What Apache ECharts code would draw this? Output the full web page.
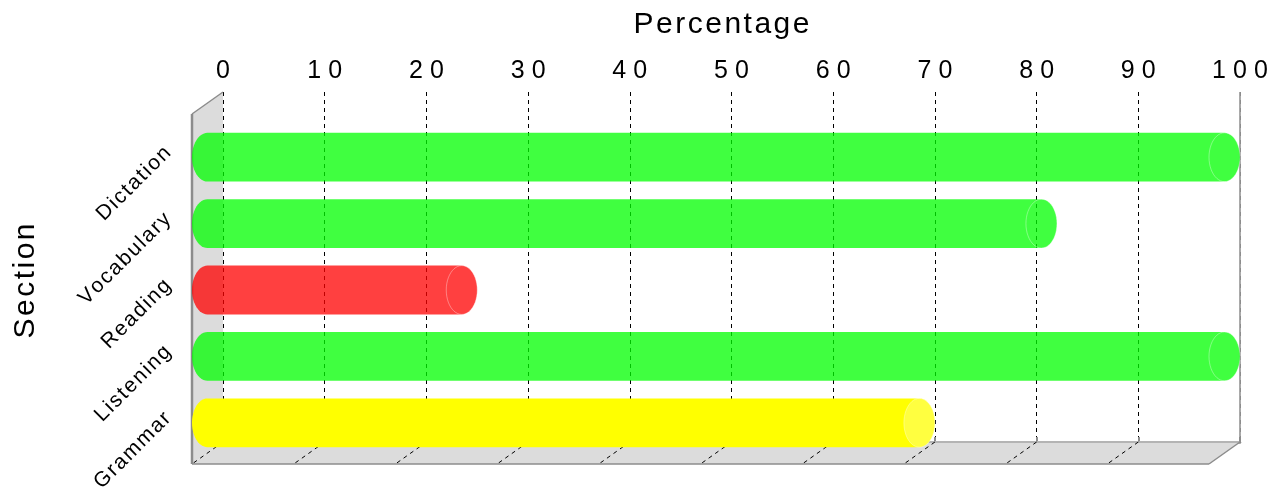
<!DOCTYPE html>
<html>
<head>
<meta charset="utf-8">
<script src="https://cdn.jsdelivr.net/npm/echarts@6/dist/echarts.min.js"></script>
<style>
  html, body { margin: 0; padding: 0; background: #fff; }
  #chart { width: 1278px; height: 490px; }
</style>
</head>
<body>
<div id="chart"></div>
<script>
// data
var sections = ['Dictation', 'Vocabulary', 'Reading', 'Listening', 'Grammar'];
var percentages = [100, 82, 25, 100, 70];
var xTicks = [0, 10, 20, 30, 40, 50, 60, 70, 80, 90, 100];

// styles
var barColors = ['rgba(0,255,0,0.75)', 'rgba(0,255,0,0.75)', 'rgba(255,0,0,0.75)', 'rgba(0,255,0,0.75)', '#ffff00'];
var capTints  = ['rgba(255,255,255,0)', 'rgba(255,255,255,0)', 'rgba(255,255,255,0)', 'rgba(255,255,255,0)', 'rgba(255,255,255,0.25)'];
var FONT = '"Liberation Sans", Arial, sans-serif';
var DX = 31, DY = 22;      // depth offset, back wall -> front edge
var WALL = '#dcdcdc', EDGE = '#8c8c8c';

function spaced(s, gap) { return String(s).split('').join(gap); }

function arcPts(cx, cy, rx, ry, a0, a1, n) {
    var pts = [];
    for (var i = 0; i <= n; i++) {
        var t = (a0 + (a1 - a0) * i / n) * Math.PI / 180;
        pts.push([cx + rx * Math.cos(t), cy + ry * Math.sin(t)]);
    }
    return pts;
}

function renderFrame(params, api) {
    var tl = api.coord([0, 1]), bl = api.coord([0, 0]);
    var tr = api.coord([100, 1]), br = api.coord([100, 0]);
    var f = function (p) { return [p[0] - DX, p[1] + DY]; };
    var line = function (a, b, color, w, dash) {
        return { type: 'line', shape: { x1: a[0], y1: a[1], x2: b[0], y2: b[1] },
                 style: { stroke: color, lineWidth: w, lineDash: dash || null } };
    };
    var kids = [
        { type: 'polygon', shape: { points: [tl, bl, f(bl), f(tl)] }, style: { fill: WALL } },
        { type: 'polygon', shape: { points: [bl, br, f(br), f(bl)] }, style: { fill: WALL } },
        line(bl, br, '#b4b4b4', 2)
    ];
    xTicks.forEach(function (v) {
        if (v === 100) return;
        var p = api.coord([v, 0]);
        kids.push(line(p, f(p), '#000', 1, [4, 4]));
    });
    kids.push(line(tr, br, EDGE, 1.5));
    kids.push(line(br, f(br), EDGE, 1.5));
    kids.push(line(f(bl), f(br), EDGE, 1.5));
    kids.push(line(tl, f(tl), EDGE, 1.5));
    kids.push(line(f(tl), f(bl), EDGE, 2.5));
    return { type: 'group', children: kids };
}

function renderBar(params, api) {
    var v = api.value(0), cat = api.value(1);
    var p0 = api.coord([0, cat]), p1 = api.coord([v, cat]);
    var h = api.size([0, 1])[1] * 0.735;
    var rx = DX / 2, ry = h / 2;
    var xL = p0[0] + rx, xR = p1[0] + rx, yc = p0[1];
    var pts = arcPts(xL, yc, rx, ry, 270, 90, 24).concat(arcPts(xR, yc, rx, ry, 90, -90, 24));
    var i = params.dataIndex;
    return {
        type: 'group',
        children: [
            { type: 'polygon', shape: { points: pts }, style: { fill: barColors[i] } },
            { type: 'polygon', shape: { points: arcPts(xR, yc, rx, ry, 0, 360, 48) },
              style: { fill: capTints[i], stroke: 'rgba(255,255,255,0.35)', lineWidth: 1 } }
        ]
    };
}

var chart = echarts.init(document.getElementById('chart'), null, { renderer: 'canvas' });
chart.setOption({
    backgroundColor: '#fff',
    animation: false,
    grid: [
        { left: 223, right: 38, top: 92, bottom: 48, outerBoundsMode: 'none', containLabel: false },  // back wall
        { left: 192, right: 69, top: 124, bottom: 34, outerBoundsMode: 'none', containLabel: false }   // front plane, category rows
    ],
    xAxis: [{
        gridIndex: 0,
        type: 'value',
        position: 'top',
        min: 0, max: 100, interval: 10,
        name: spaced('Percentage', '\u200A'),
        nameLocation: 'middle',
        nameGap: 52,
        nameTextStyle: { fontFamily: FONT, fontSize: 30, color: '#000', padding: [0, 20, 0, 0] },
        axisLine: { lineStyle: { color: EDGE, width: 2.5 } },
        axisTick: { length: 5, lineStyle: { color: EDGE, width: 2 } },
        axisLabel: {
            fontFamily: FONT, fontSize: 25, color: '#000', margin: 8,
            formatter: function (v) { return spaced(v, '\u2009\u200A'); }
        },
        splitLine: { show: true, lineStyle: {
            color: ['#000', '#000', '#000', '#000', '#000', '#000', '#000', '#000', '#000', '#000', EDGE],
            type: [4, 4], width: 1 } }
    }, {
        gridIndex: 1,
        type: 'value',
        min: 0, max: 100,
        show: false
    }],
    yAxis: [{
        gridIndex: 0,
        type: 'value',
        min: 0, max: 1,
        show: false
    }, {
        gridIndex: 1,
        type: 'category',
        inverse: true,
        data: sections,
        name: spaced('Section', '\u200A'),
        nameLocation: 'middle',
        nameRotate: 90,
        nameGap: 151,
        nameTextStyle: { fontFamily: FONT, fontSize: 30, color: '#000', padding: [0, 0, 0, 18] },
        axisLine: { show: false },
        axisTick: { alignWithLabel: true, length: 7, lineStyle: { color: EDGE, width: 2 } },
        axisLabel: {
            fontFamily: FONT, fontSize: 21, color: '#000', rotate: 45, margin: 17,
            verticalAlign: 'bottom',
            formatter: function (s) { return spaced(s, '\u200A'); }
        },
        splitLine: { show: false }
    }],
    series: [{
        type: 'custom',
        xAxisIndex: 0, yAxisIndex: 0,
        z: 1,
        silent: true,
        renderItem: renderFrame,
        data: [[0, 0]]
    }, {
        type: 'custom',
        name: 'Percentage',
        xAxisIndex: 1, yAxisIndex: 1,
        z: 3,
        renderItem: renderBar,
        encode: { x: 0, y: 1 },
        data: percentages.map(function (v, i) { return [v, i]; })
    }]
});
</script>
</body>
</html>
